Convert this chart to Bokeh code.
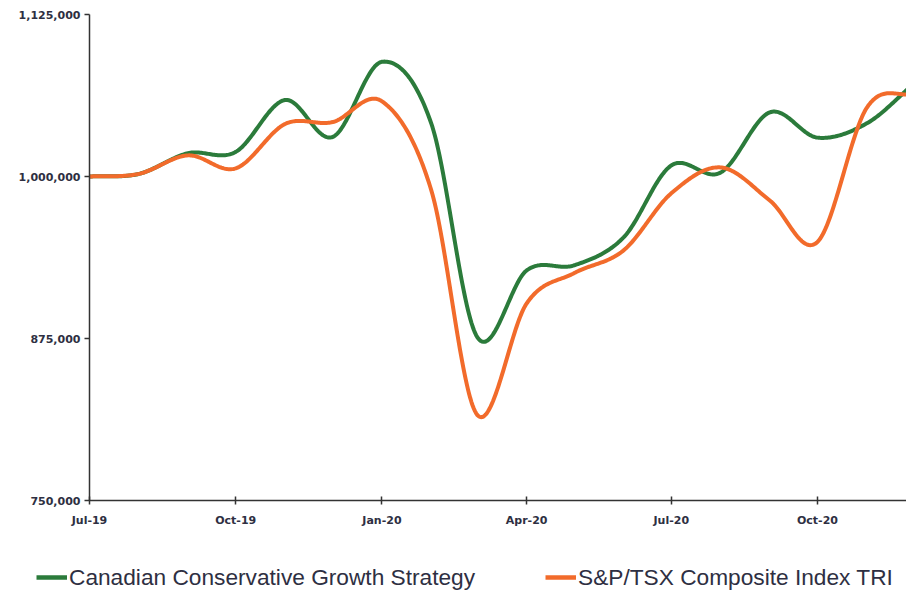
import numpy as np
import pandas as pd
from bokeh.plotting import figure
from bokeh.layouts import column
from bokeh.models import (FixedTicker, NumeralTickFormatter, Legend, LegendItem, Range1d)
from bokeh.embed import file_html
from bokeh.resources import INLINE

# ---------------- data ----------------
months = ["2019-07-01", "2019-08-01", "2019-09-01", "2019-10-01", "2019-11-01", "2019-12-01",
          "2020-01-01", "2020-02-01", "2020-03-01", "2020-04-01", "2020-05-01", "2020-06-01",
          "2020-07-01", "2020-08-01", "2020-09-01", "2020-10-01", "2020-11-01", "2020-12-01"]
strategy = [1000000, 1002000, 1018000, 1019000, 1059000, 1030500,
            1088500, 1041000, 876000, 927500, 931500, 953000,
            1008500, 1003000, 1049500, 1030000, 1041000, 1072000]
index_tri = [1000000, 1002000, 1016300, 1006300, 1040500, 1042000,
             1058000, 989500, 816000, 902000, 925500, 943000,
             987000, 1007000, 981500, 949500, 1053000, 1064000]
series_names = ["Canadian Conservative Growth Strategy", "S&P/TSX Composite Index TRI"]
x_tick_labels = ["Jul-19", "Oct-19", "Jan-20", "Apr-20", "Jul-20", "Oct-20"]
y_ticks = [750000, 875000, 1000000, 1125000]

GREEN = "#2b7b3b"
ORANGE = "#f26b2b"
TEXT = "#2e2f42"
AXIS = "#333333"


def to_ms(dates):
    return (pd.to_datetime(dates).astype("int64") // 10**6).astype(float).to_numpy()


def catmull_rom(xs, ys, n=40):
    P = np.column_stack([np.asarray(xs, float), np.asarray(ys, float)])
    P = np.vstack([2 * P[0] - P[1], P, 2 * P[-1] - P[-2]])
    t = np.linspace(0, 1, n, endpoint=False)[:, None]
    out = []
    for i in range(1, len(P) - 2):
        p0, p1, p2, p3 = P[i - 1], P[i], P[i + 1], P[i + 2]
        pts = 0.5 * ((2 * p1) + (-p0 + p2) * t + (2 * p0 - 5 * p1 + 4 * p2 - p3) * t ** 2
                     + (-p0 + 3 * p1 - 3 * p2 + p3) * t ** 3)
        out.append(pts)
    out.append(P[-2][None, :])
    c = np.vstack(out)
    return c[:, 0], c[:, 1]


xm = to_ms(months)
x_start = xm[0]
x_end = x_start + 514 * 86400000.0

p = figure(width=906, height=540, x_axis_type="datetime",
           x_range=Range1d(x_start, x_end), y_range=Range1d(750000, 1125000),
           output_backend="svg", toolbar_location=None,
           min_border_left=89, min_border_right=0, min_border_top=14, min_border_bottom=40)
p.frame_align = False
p.outline_line_color = None
p.xgrid.grid_line_color = None
p.ygrid.grid_line_color = None

gx, gy = catmull_rom(xm, strategy)
ox, oy = catmull_rom(xm, index_tri)
p.line(gx, gy, line_color=GREEN, line_width=4, line_cap="round", line_join="round")
p.line(ox, oy, line_color=ORANGE, line_width=4, line_cap="round", line_join="round")

# x axis
tick_ms = to_ms(pd.to_datetime(x_tick_labels, format="%b-%y"))
p.xaxis.ticker = FixedTicker(ticks=list(tick_ms))
p.xaxis.major_label_overrides = {float(t): lab for t, lab in zip(tick_ms, x_tick_labels)}
p.xaxis.major_tick_in = 4
p.xaxis.major_tick_out = 4
p.xaxis.minor_tick_line_color = None
p.xaxis.major_label_standoff = 9

# y axis
p.yaxis.ticker = FixedTicker(ticks=y_ticks)
p.yaxis.formatter = NumeralTickFormatter(format="0,0")
p.yaxis.major_tick_in = 0
p.yaxis.major_tick_out = 5
p.yaxis.minor_tick_line_color = None
p.yaxis.major_label_standoff = 4

for ax in (p.xaxis, p.yaxis):
    ax.axis_line_color = AXIS
    ax.axis_line_width = 1.5
    ax.major_tick_line_color = AXIS
    ax.major_tick_line_width = 1.5
    ax.major_label_text_font = "DejaVu Sans"
    ax.major_label_text_font_size = "11px"
    ax.major_label_text_font_style = "bold"
    ax.major_label_text_color = TEXT

# ---------------- legend strip ----------------
lg = figure(width=906, height=52, x_range=Range1d(0, 1), y_range=Range1d(0, 1),
            x_axis_location=None, y_axis_location=None,
            output_backend="svg", toolbar_location=None,
            min_border_left=0, min_border_right=0, min_border_top=0, min_border_bottom=0)
lg.frame_align = False
lg.outline_line_color = None
lg.xgrid.grid_line_color = None
lg.ygrid.grid_line_color = None
# legend keys: the same series, lying outside this strip's visible ranges
k1 = lg.line(xm, strategy, line_color=GREEN, line_width=4.5)
k2 = lg.line(xm, index_tri, line_color=ORANGE, line_width=4.5)

legend = Legend(items=[LegendItem(label=series_names[0], renderers=[k1]),
                       LegendItem(label=series_names[1], renderers=[k2])],
                orientation="horizontal", location=(36, 1.5),
                glyph_width=31, glyph_height=24, label_height=24, label_standoff=2,
                spacing=70, padding=0, margin=0,
                border_line_color=None, background_fill_alpha=0,
                label_text_font="Liberation Sans", label_text_font_size="22.7px",
                label_text_color=TEXT)
lg.add_layout(legend, "center")

layout = column(p, lg, spacing=0)
open("out.html", "w").write(file_html(layout, INLINE))
